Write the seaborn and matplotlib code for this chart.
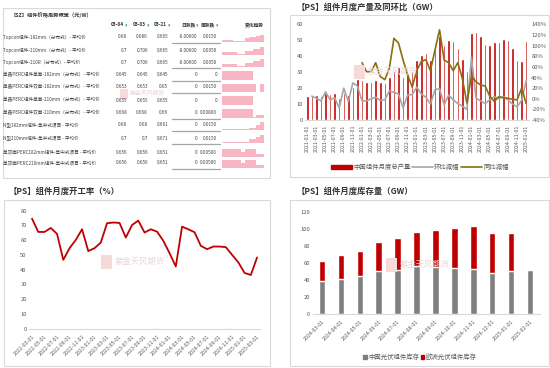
import numpy as np
import pandas as pd
import matplotlib
matplotlib.use("Agg")
import matplotlib.pyplot as plt
import seaborn as sns
from matplotlib.patches import Rectangle
from matplotlib.lines import Line2D

# ---------------- data ----------------
table_title = "【SZ】组件价格走势概览（元/W）"
table_headers = ["03-04", "03-03", "03-21", "日涨跌", "周涨跌"]
trend_header = "变化趋势"
row_names = ["Topcon组件-182mm（分布式）- 平均价", "Topcon组件-210mm（分布式）- 平均价",
             "Topcon组件-210R（分布式）- 平均价", "单晶PERC组件单面-182mm（分布式）- 平均价",
             "单晶PERC组件双面-182mm（分布式）- 平均价", "单晶PERC组件单面-210mm（分布式）- 平均价",
             "单晶PERC组件双面-210mm（分布式）- 平均价", "N型182mm组件-集中式项目 - 平均价",
             "N型210mm组件-集中式项目 - 平均价", "单双面PERC182mm组件-集中式项目 - 平均价",
             "单双面PERC210mm组件-集中式项目 - 平均价"]
col_a = ["0.68", "0.7", "0.7", "0.645", "0.653", "0.655", "0.668", "0.68", "0.7", "0.656", "0.656"]
col_b = ["0.686", "0.706", "0.706", "0.645", "0.653", "0.655", "0.668", "0.68", "0.7", "0.656", "0.656"]
col_c = ["0.665", "0.665", "0.665", "0.645", "0.65", "0.655", "0.66", "0.661", "0.671", "0.651", "0.651"]
col_day = ["-0.00600", "-0.00600", "-0.00600", "0", "0", "0", "0", "0", "0", "0", "0"]
col_week = ["0.0150", "0.0050", "0.0050", "0", "0.0150", "0", "0.00800", "0.0150", "0.0150", "0.00500", "0.00500"]
spark_rows = [
    [0.2, 0.2, 0.2, 0.15, 0.1, 0.1, 0.45, 0.5, 0.55, 0.6, 0.75, 0.95],
    [0.3, 0.3, 0.35, 0.35, 0.1, 0.1, 0.4, 0.45, 0.6, 0.65, 0.8, 0.95],
    [0.3, 0.3, 0.35, 0.35, 0.1, 0.1, 0.4, 0.45, 0.6, 0.65, 0.8, 0.95],
    [0.9, 0.9, 0.9, 0.9, 0.9, 0.9, 0.9, 0.9, 0.0, 0.0, 0.0, 0.0],
    [0.8, 0.8, 0.8, 0.8, 0.8, 0.8, 0.8, 0.8, 0.8, 0.0, 0.8, 0.8],
    [0.9, 0.9, 0.9, 0.9, 0.9, 0.9, 0.9, 0.9, 0.0, 0.0, 0.0, 0.0],
    [0.9, 0.9, 0.9, 0.9, 0.9, 0.9, 0.9, 0.9, 0.1, 0.3, 0.3, 0.3],
    [0.1, 0.1, 0.1, 0.1, 0.1, 0.1, 0.1, 0.25, 0.25, 0.5, 0.8, 0.95],
    [0.15, 0.15, 0.15, 0.15, 0.15, 0.15, 0.15, 0.4, 0.4, 0.6, 0.85, 0.95],
    [0.8, 0.8, 0.8, 0.8, 0.8, 0.5, 0.8, 0.8, 0.8, 0.3, 0.3, 0.3],
    [0.8, 0.8, 0.8, 0.8, 0.8, 0.5, 0.8, 0.8, 0.8, 0.3, 0.3, 0.3],
]

prod_months = [d.strftime("%Y-%m-%d") for d in pd.date_range("2021-01-01", "2025-01-01", freq="MS")]
production = [15, 16, 16, 15, 17, 16.5, 17, 14, 17, 16, 21, 26,
              25, 24, 24, 25, 24, 23.5, 27, 30.5, 33, 27, 29, 31,
              38, 41, 42, 38, 44.5, 53, 47, 50.5, 49.5, 45, 38.5, 30.5,
              54.5, 55, 53, 48, 47, 49, 49, 51, 50, 45, 38, 37,
              49.5]
mom_pct = [np.nan, 5, 1, -4, 13, -2, 2, -17, 20, -5, 30, 24,
           -4, -4, 0, 3, -3, -2, 15, 12, 9, -17, 7, 8,
           22, 9, 3, -10, 17, 19, -11, 7, -2, -9, -14, -20,
           78, 1, -4, -9, -2, 4, 0, 4, -2, -10, -15, -3,
           34]
yoy_pct = [np.nan] * 12 + [68, 51, 51, 68, 42, 36, 58, 114, 105, 73, 45, 22,
                           53, 70, 74, 53, 92, 130, 73, 68, 53, 68, 38, -8,
                           43, 32, 26, 24, 5, -5, 4, 2, 1, -1, -2, 20,
                           -9]
prod_ticklabels = prod_months[::2]

util_months = [d.strftime("%Y-%m-%d") for d in pd.date_range("2022-03-01", "2025-03-01", freq="MS")]
utilization = [74.6, 65.6, 65.6, 68.3, 64.3, 46.7, 54.6, 60.2, 67.4, 52.6, 54.6, 58.4,
               71.5, 72, 71.7, 61.8, 70.3, 73.3, 65.2, 67.4, 65.8, 59.6, 51.2, 42.2,
               69.2, 67.4, 65.4, 56.2, 53.9, 55.7, 55.7, 55.3, 50.1, 45, 37.8, 36.4,
               48.3]
util_ticklabels = util_months[::2]

inv_months = ["2024-03-01", "2024-04-01", "2024-05-01", "2024-06-01", "2024-07-01", "2024-08-01",
              "2024-09-01", "2024-10-01", "2024-11-01", "2024-12-01", "2025-01-01", "2025-02-01"]
inv_china = [39, 41, 44.5, 50.5, 51, 56, 55, 54, 52.5, 47.5, 50, 52]
inv_europe = [23.5, 28.5, 29.5, 33.5, 38, 40, 44, 46.5, 50.5, 48, 45.5, 0]

# ---------------- style ----------------
sns.set_theme(style="white")
plt.rcParams["font.family"] = ["Noto Sans CJK SC", "DejaVu Sans"]
plt.rcParams["axes.unicode_minus"] = False

W, H = 550, 368
fig = plt.figure(figsize=(5.5, 3.68), dpi=100)
fig.patch.set_facecolor("white")

RED = "#C00000"
GRAY = "#A6A6A6"
DGRAY = "#7F7F7F"
BROWN = "#8C6D0F"
TXT = "#595959"
FRAME = "#D9D9D9"


def rect(x0, y0, x1, y1):
    return [x0 / W, 1 - y1 / H, (x1 - x0) / W, (y1 - y0) / H]


def ftext(x, y, s, **kw):
    kw.setdefault("va", "center")
    kw.setdefault("ha", "left")
    fig.text(x / W, 1 - y / H, s, **kw)


def frame(x0, y0, x1, y1):
    fig.patches.append(Rectangle((x0 / W, 1 - y1 / H), (x1 - x0) / W, (y1 - y0) / H,
                                 transform=fig.transFigure, fill=False,
                                 edgecolor=FRAME, linewidth=0.8, zorder=0))


def hline(x0, x1, y, color, lw):
    fig.lines.append(Line2D([x0 / W, x1 / W], [1 - y / H, 1 - y / H],
                            transform=fig.transFigure, color=color, linewidth=lw))


def watermark(x, y, size=6):
    s = size / 6.0
    fig.patches.append(Rectangle(((x - 14 * s) / W, 1 - (y + 7 * s) / H), 11 * s / W, 14 * s / H,
                                 transform=fig.transFigure, facecolor="#F6D9D9",
                                 edgecolor="none", zorder=0.5))
    ftext(x, y - 1, "紫金天风期货", fontsize=size, color="#E9D6D6", zorder=0.5)


def style_axis(ax, fs=4.5):
    for s in ["top", "right", "left"]:
        ax.spines[s].set_visible(False)
    ax.spines["bottom"].set_color(FRAME)
    ax.spines["bottom"].set_linewidth(0.8)
    ax.tick_params(axis="both", labelsize=fs, colors=TXT, length=0, pad=1.5)
    ax.tick_params(axis="x", length=2, width=0.6, color=FRAME)
    ax.set_xlabel("")
    ax.set_ylabel("")
    ax.set_facecolor("none")
    ax.grid(False)


# ---------------- table panel ----------------
frame(3, 8, 270, 178)
ftext(10, 15, table_title, fontsize=3.8, color="#333333", fontweight="bold")
hdr_x = [124, 146, 167, 195, 215]
for hx, h in zip(hdr_x, table_headers):
    ftext(hx, 25, h, fontsize=3.4, color="#333333", ha="right", fontweight="bold")
    ftext(hx + 1, 26, "▾", fontsize=3.5, color="#1FA5A0")
ftext(264, 25, trend_header, fontsize=3.4, color="#333333", ha="right", fontweight="bold")
row_y = [37, 50, 62, 75, 87, 100, 113, 125, 138, 152, 163]
val_x = [127, 148, 168, 197, 217]
line_rows = [0, 2, 3, 4, 6, 7, 8, 10]
for i, y in enumerate(row_y):
    ftext(3, y, row_names[i], fontsize=3.3, color="#404040")
    for vx, col in zip(val_x, [col_a, col_b, col_c, col_day, col_week]):
        ftext(vx, y, col[i], fontsize=3.3, color="#404040", ha="right")
    if i in line_rows:
        hline(172, 220, y + 6, "#A6A6A6", 0.9)
    sax = fig.add_axes(rect(222, y - 5, 264, y + 5))
    vals = spark_rows[i]
    sax.fill_between(np.arange(len(vals)), vals, step="post", color="#F7B6C2", linewidth=0)
    sax.set_xlim(0, len(vals) - 1)
    sax.set_ylim(0, 1)
    sax.axis("off")
watermark(130, 94, size=4.2)

# ---------------- production panel ----------------
frame(290, 15, 549, 177)
ftext(297, 7, "【PS】组件月度产量及同环比（GW）", fontsize=6, color="#333333", fontweight="bold")
watermark(368, 72)
ax1 = fig.add_axes(rect(305, 24.5, 528.5, 120))
dfp = pd.DataFrame({"month": prod_months, "prod": production})
sns.barplot(data=dfp, x="month", y="prod", color=RED, saturation=1, width=0.55, ax=ax1)
ax1.set_ylim(0, 60)
ax1.set_yticks(range(0, 61, 10))
ax1.set_xlim(-0.5, len(prod_months) - 0.5)
ax1.set_xticks(range(0, len(prod_months), 2))
ax1.set_xticklabels(prod_ticklabels, rotation=90)
style_axis(ax1, fs=4.2)
ax1.tick_params(axis="x", labelsize=3.8)
ax2 = ax1.twinx()
xi = np.arange(len(prod_months))
sns.lineplot(x=xi, y=mom_pct, color=GRAY, linewidth=1.2, ax=ax2)
sns.lineplot(x=xi, y=yoy_pct, color=BROWN, linewidth=1.2, ax=ax2)
ax2.set_ylim(-40, 140)
ax2.set_yticks(range(-40, 141, 20))
ax2.set_yticklabels([f"{v}%" for v in range(-40, 141, 20)])
for s in ["top", "right", "left", "bottom"]:
    ax2.spines[s].set_visible(False)
ax2.tick_params(axis="y", labelsize=4.2, colors=TXT, length=0, pad=2)
ax2.set_ylabel("")
ax2.grid(False)
handles = [Rectangle((0, 0), 1, 1, color=RED), Line2D([], [], color=GRAY, lw=1.2),
           Line2D([], [], color=BROWN, lw=1.2)]
fig.legend(handles, ["中国组件月度总产量", "环比减幅", "同比减幅"], loc="center",
           bbox_to_anchor=(420 / W, 1 - 167 / H), ncol=3, frameon=False, fontsize=4.6,
           handlelength=3.2, handleheight=0.7, columnspacing=0.3, handletextpad=0.2,
           labelcolor=TXT)

# ---------------- utilization panel ----------------
frame(4, 200, 270, 366)
ftext(9, 191, "【PS】组件月度开工率（%）", fontsize=6, color="#333333", fontweight="bold")
watermark(115, 262)
ax3 = fig.add_axes(rect(28.9, 210.7, 260.2, 328.7))
sns.lineplot(x=np.arange(len(util_months)), y=utilization, color=RED, linewidth=1.3, ax=ax3)
ax3.set_ylim(0, 80)
ax3.set_yticks(range(0, 81, 10))
ax3.set_xlim(-0.5, len(util_months) - 0.5)
ax3.set_xticks(range(0, len(util_months), 2))
ax3.set_xticklabels(util_ticklabels, rotation=45, ha="right", rotation_mode="anchor")
style_axis(ax3, fs=4.2)
ax3.tick_params(axis="x", labelsize=3.8)

# ---------------- inventory panel ----------------
frame(290, 200, 549, 366)
ftext(297, 191, "【PS】组件月度库存量（GW）", fontsize=6, color="#333333", fontweight="bold")
watermark(400, 265)
ax4 = fig.add_axes(rect(312.5, 211.7, 539.5, 313.7))
dfi = pd.DataFrame({"month": inv_months, "china": inv_china, "europe": inv_europe})
dfi["total"] = dfi["china"] + dfi["europe"]
sns.barplot(data=dfi, x="month", y="total", color=RED, saturation=1, width=0.34, ax=ax4)
sns.barplot(data=dfi, x="month", y="china", color=DGRAY, saturation=1, width=0.34, ax=ax4)
ax4.set_ylim(0, 120)
ax4.set_yticks(range(0, 121, 20))
ax4.set_xlim(-0.5, len(inv_months) - 0.5)
ax4.set_xticks(range(len(inv_months)))
ax4.set_xticklabels(inv_months, rotation=45, ha="right", rotation_mode="anchor")
style_axis(ax4, fs=4.2)
ax4.tick_params(axis="x", labelsize=3.8)
handles2 = [Rectangle((0, 0), 1, 1, color=DGRAY), Rectangle((0, 0), 1, 1, color=RED)]
fig.legend(handles2, ["中国光伏组件库存", "欧洲光伏组件库存"], loc="center",
           bbox_to_anchor=(420 / W, 1 - 357 / H), ncol=2, frameon=False, fontsize=4.6,
           handlelength=0.6, handleheight=0.6, columnspacing=0.2, handletextpad=0.2,
           labelcolor=TXT)

fig.savefig("out.png", dpi=100)
